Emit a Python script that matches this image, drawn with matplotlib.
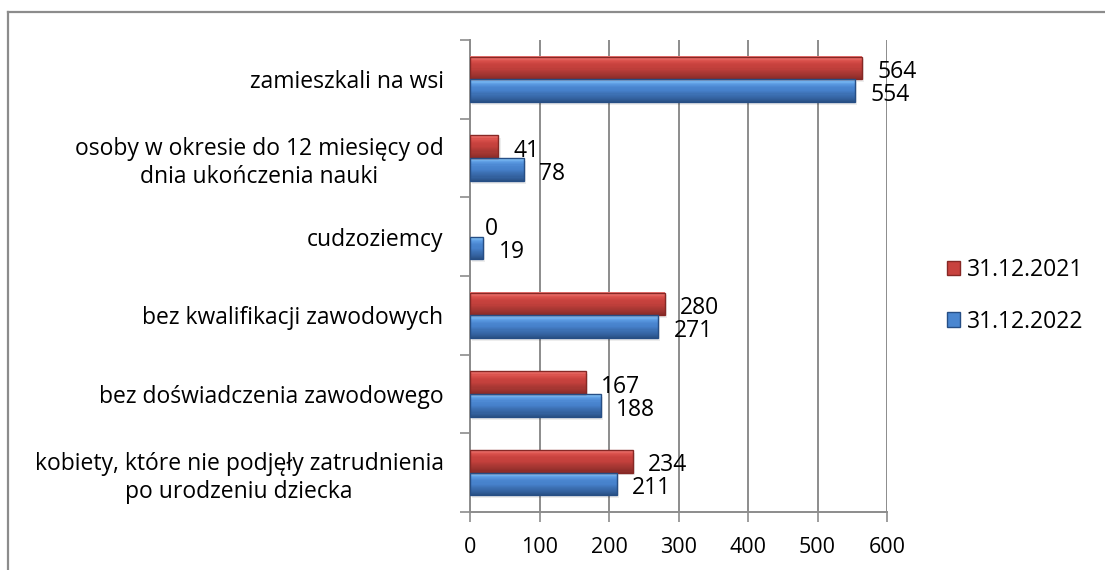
import numpy as np
import matplotlib
matplotlib.use('Agg')
import matplotlib.pyplot as plt
from matplotlib.lines import Line2D
from matplotlib.patches import Rectangle
from matplotlib.colors import to_rgb

plt.rcParams['font.family'] = ['Open Sans', 'DejaVu Sans']

categories = [
    'zamieszkali na wsi',
    'osoby w okresie do 12 miesięcy od\ndnia ukończenia nauki',
    'cudzoziemcy',
    'bez kwalifikacji zawodowych',
    'bez doświadczenia zawodowego',
    'kobiety, które nie podjęły zatrudnienia\npo urodzeniu dziecka',
]
vals_2021 = [564, 41, 0, 280, 167, 234]
vals_2022 = [554, 78, 19, 271, 188, 211]
series_names = ['31.12.2021', '31.12.2022']
xticks = [0, 100, 200, 300, 400, 500, 600]

# bevel colour profile, top -> bottom
RED = ['#F27A76', '#D9504B', '#C8423E', '#C3403C', '#AE3935', '#9E3430', '#8A2B28']
BLUE = ['#8CCBFA', '#5C9BE3', '#4A86D0', '#4680CA', '#3C6FB2', '#3463A1', '#2A5287']
EDGE = {'r': '#862825', 'b': '#264E85'}

H = 0.29


def bevel_bar(ax, y, vals, profile, edge):
    lw = [1.0 if v > 0 else 0 for v in vals]
    ax.barh(y + 0.035, vals, height=H, left=3, color='#000000', alpha=0.07, lw=0, zorder=2)
    n = len(profile)
    # build smooth vertical gradient from strips
    steps = 21
    cols = [to_rgb(c) for c in profile]
    sh = H / steps
    for k in range(steps):
        t = k / (steps - 1) * (n - 1)
        i0 = int(np.floor(t)); i1 = min(i0 + 1, n - 1); f = t - i0
        c = tuple((1 - f) * a + f * b for a, b in zip(cols[i0], cols[i1]))
        yk = y - H / 2 + sh * (k + 0.5)
        ax.barh(yk, vals, height=sh * 1.05, color=c, lw=0, zorder=3)
    ax.barh(y, vals, height=H, fill=False, edgecolor=edge, lw=lw, zorder=4)


fig = plt.figure(figsize=(11.05, 5.70), dpi=100)
ax = fig.add_axes([470 / 1105, 1 - 512 / 570, (887 - 470) / 1105, (512 - 40) / 570])

pos = np.arange(len(categories))
bevel_bar(ax, pos - H / 2, vals_2021, RED, EDGE['r'])
bevel_bar(ax, pos + H / 2, vals_2022, BLUE, EDGE['b'])

for p, v in zip(pos - H / 2, vals_2021):
    ax.annotate(str(v), (v, p), xytext=(11, -3), textcoords='offset points',
                ha='left', va='center', fontsize=16.5, zorder=5)
for p, v in zip(pos + H / 2, vals_2022):
    ax.annotate(str(v), (v, p), xytext=(11, -3), textcoords='offset points',
                ha='left', va='center', fontsize=16.5, zorder=5)

ax.set_xlim(0, 600)
ax.set_ylim(len(categories) - 0.5, -0.5)
ax.set_xticks(xticks)
ax.set_xticklabels([str(t) for t in xticks], fontsize=15.5)
ax.grid(axis='x', color='#8C8C8C', lw=1.4, zorder=0)
ax.set_axisbelow(True)

ax.set_yticks(pos)
ax.set_yticklabels(categories, fontsize=16.5, multialignment='center', linespacing=1.22)
ax.tick_params(axis='y', length=0, pad=19)
ax.set_yticks(np.arange(len(categories) + 1) - 0.5, minor=True)
ax.tick_params(axis='y', which='minor', length=7, width=1.2, color='#8C8C8C')
ax.tick_params(axis='x', length=7, width=1.2, color='#8C8C8C', pad=11)

for s in ['top', 'right']:
    ax.spines[s].set_visible(False)
for s in ['left', 'bottom']:
    ax.spines[s].set_color('#8C8C8C')
    ax.spines[s].set_linewidth(1.4)

handles = [Rectangle((0, 0), 1, 1, facecolor=RED[2], edgecolor=EDGE['r']),
           Rectangle((0, 0), 1, 1, facecolor=BLUE[2], edgecolor=EDGE['b'])]
fig.legend(handles, series_names, loc='center left', bbox_to_anchor=(926 / 1105, 1 - 296 / 570),
           frameon=False, fontsize=16.5, handlelength=0.6, handleheight=0.6,
           handletextpad=0.3, labelspacing=1.2)

# outer frame (left and top edges visible)
fig.add_artist(Line2D([8 / 1105, 8 / 1105], [0, 1 - 12 / 570], transform=fig.transFigure,
                      color='#8C8C8C', lw=1.6))
fig.add_artist(Line2D([8 / 1105, 1], [1 - 12 / 570, 1 - 12 / 570], transform=fig.transFigure,
                      color='#8C8C8C', lw=1.6))

fig.savefig('out.png', dpi=100, facecolor='white')
